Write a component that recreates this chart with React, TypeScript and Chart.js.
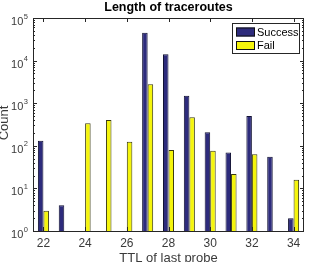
import React, { useEffect, useRef } from "react";
import { Chart, registerables } from "chart.js";

Chart.register(...registerables);

const ttl = [22, 23, 24, 25, 26, 27, 28, 29, 30, 31, 32, 33, 34];
const successCounts = [132, 4, null, null, null, 45200, 14060, 1500, 207, 70, 500, 55, 2];
const failCounts = [3, null, 337, 403, 125, 2780, 79.5, 467, 77, 21.8, 63, null, 16];
const xTickLabels = ["22", "24", "26", "28", "30", "32", "34"];
const yTickExponents = ["0", "1", "2", "3", "4", "5"];

const FONT = "'Liberation Sans', Arial, Helvetica, sans-serif";
const AXIS = "#262626";
const TEXT = "#3a3a3a";

const matlabPlugin = {
  id: "matlabAxes",
  afterDraw(chart: any) {
    const { ctx, chartArea } = chart;
    const { left, right, top, bottom } = chartArea;
    const x = chart.scales.x;
    const y = chart.scales.y;
    ctx.save();
    ctx.strokeStyle = AXIS;
    ctx.lineWidth = 1;
    // box
    ctx.strokeRect(Math.round(left) + 0.5, Math.round(top) + 0.5, Math.round(right - left) - 1, Math.round(bottom - top));
    // y ticks (log)
    ctx.beginPath();
    for (let d = 0; d < 5; d++) {
      for (let k = 1; k <= 9; k++) {
        const v = k * Math.pow(10, d);
        const py = Math.round(y.getPixelForValue(v)) + 0.5;
        const len = k === 1 ? 4 : 2;
        ctx.moveTo(left, py);
        ctx.lineTo(left + len, py);
        ctx.moveTo(right, py);
        ctx.lineTo(right - len, py);
      }
    }
    // x ticks
    ttl.forEach((t, i) => {
      if (xTickLabels.indexOf(String(t)) < 0) return;
      const px = Math.round(x.getPixelForValue(i)) + 0.5;
      ctx.moveTo(px, bottom);
      ctx.lineTo(px, bottom - 4);
      ctx.moveTo(px, top);
      ctx.lineTo(px, top + 4);
    });
    ctx.stroke();

    // y tick labels with superscript exponents
    ctx.fillStyle = TEXT;
    ctx.textBaseline = "middle";
    yTickExponents.forEach((e) => {
      const py = y.getPixelForValue(Math.pow(10, Number(e)));
      ctx.font = `7.5px ${FONT}`;
      const ew = ctx.measureText(e).width;
      ctx.textAlign = "left";
      const ex = left - 5 - ew;
      ctx.fillText(e, ex, py - 1.5);
      ctx.font = `11px ${FONT}`;
      ctx.textAlign = "right";
      ctx.fillText("10", ex - 0.5, py + 4);
    });

    // title
    ctx.fillStyle = "#000";
    ctx.font = `bold 12.5px ${FONT}`;
    ctx.textAlign = "center";
    ctx.textBaseline = "middle";
    ctx.fillText("Length of traceroutes", (left + right) / 2, 7.5);

    // x label
    ctx.fillStyle = TEXT;
    ctx.font = `13px ${FONT}`;
    ctx.fillText("TTL of last probe", (left + right) / 2, 258);

    // y label
    ctx.save();
    ctx.translate(8, 123);
    ctx.rotate(-Math.PI / 2);
    ctx.textBaseline = "alphabetic";
    ctx.fillText("Count", 0, 0);
    ctx.restore();

    // legend
    const lx = 232, ly = 23, lw = 67, lh = 30;
    ctx.fillStyle = "#fff";
    ctx.fillRect(lx, ly, lw, lh);
    ctx.strokeStyle = AXIS;
    ctx.strokeRect(lx + 0.5, ly + 0.5, lw, lh);
    chart.data.datasets.forEach((ds: any, i: number) => {
      const cy = ly + 8.5 + i * 13.5;
      ctx.fillStyle = ds.backgroundColor;
      ctx.fillRect(236, cy - 4, 19, 9);
      ctx.strokeStyle = "#111";
      ctx.strokeRect(236.5, cy - 3.5, 18, 8);
      ctx.fillStyle = "#000";
      ctx.font = `11px ${FONT}`;
      ctx.textAlign = "left";
      ctx.fillText(ds.label, 257, cy + 1);
    });
    ctx.restore();
  },
};

export default function App() {
  const ref = useRef<HTMLCanvasElement>(null);
  useEffect(() => {
    document.body.style.margin = "0";
    const chart = new Chart(ref.current as HTMLCanvasElement, {
      type: "bar",
      data: {
        labels: ttl.map(String),
        datasets: [
          {
            label: "Success",
            data: successCounts as any,
            backgroundColor: "#2d2b7c",
            borderColor: "#111133",
            borderWidth: 1,
            categoryPercentage: 0.53,
            barPercentage: 1.0,
          },
          {
            label: "Fail",
            data: failCounts as any,
            backgroundColor: "#f5f50c",
            borderColor: "#3a3a10",
            borderWidth: 1,
            categoryPercentage: 0.53,
            barPercentage: 1.0,
          },
        ],
      },
      options: {
        responsive: false,
        animation: false,
        layout: { padding: { top: 18, right: 5, left: 0, bottom: 0 } },
        plugins: { legend: { display: false }, tooltip: { enabled: false }, title: { display: false } },
        scales: {
          x: {
            type: "category",
            offset: true,
            grid: { display: false, drawTicks: false, tickLength: 0 },
            border: { display: false },
            ticks: {
              autoSkip: false,
              maxRotation: 0,
              padding: 5,
              color: TEXT,
              font: { family: FONT, size: 12 },
              callback: (_v: any, i: number) => {
                const s = String(ttl[i]);
                return xTickLabels.indexOf(s) >= 0 ? s : "";
              },
            },
            afterFit: (s: any) => {
              s.height = 31;
            },
          },
          y: {
            type: "logarithmic",
            min: 1,
            max: 100000,
            grid: { display: false, drawTicks: false },
            border: { display: false },
            ticks: { display: false },
            afterFit: (s: any) => {
              s.width = 33;
            },
          },
        },
      },
      plugins: [matlabPlugin],
    });
    return () => chart.destroy();
  }, []);
  return (
    <div style={{ width: 309, height: 262 }}>
      <canvas ref={ref} width={309} height={262} style={{ display: "block" }} />
    </div>
  );
}
